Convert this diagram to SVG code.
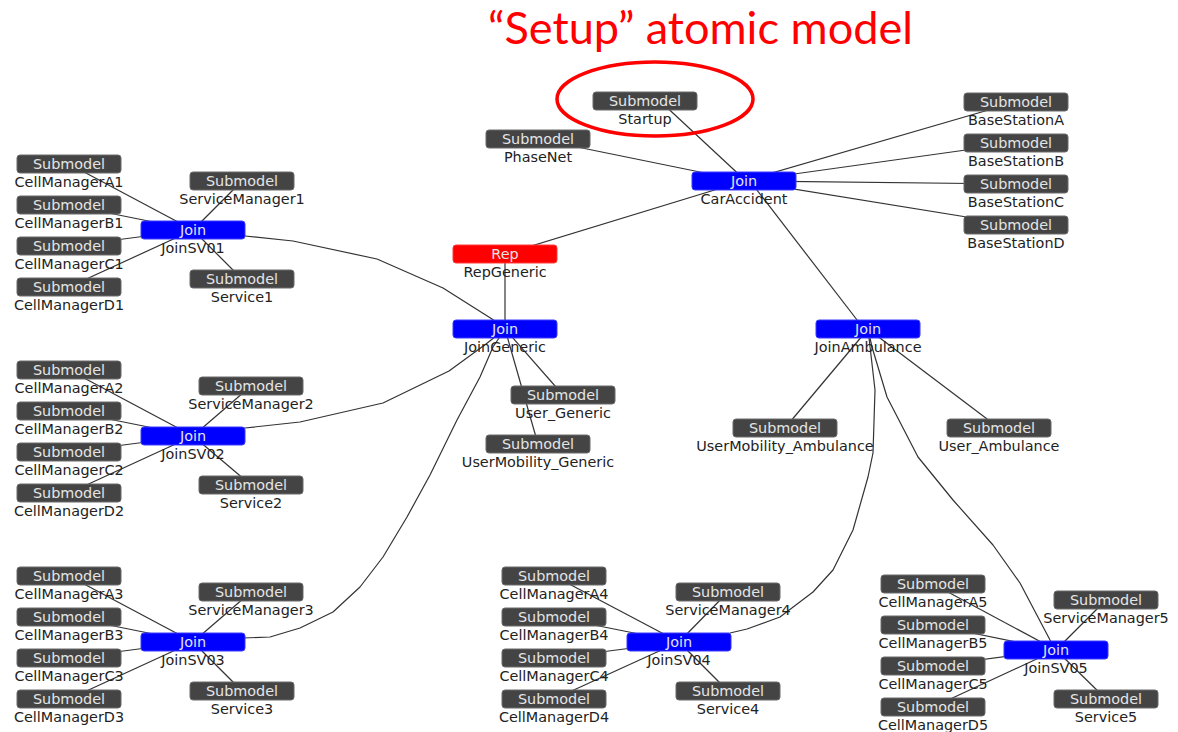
<svg xmlns="http://www.w3.org/2000/svg" width="1178" height="732" viewBox="0 0 1178 732">
  <style>
    .edge { fill: none; stroke: #333; stroke-width: 1.2; stroke-linejoin: round; }
    .sub { fill: #444; stroke: #6a6a6a; stroke-width: 1; }
    .join { fill: #0000ff; stroke: #3a3aff; stroke-width: 1; }
    .rep { fill: #ff0000; stroke: #ff3a3a; stroke-width: 1; }
    .kind { font-family: "DejaVu Sans", sans-serif; font-size: 14.4px; fill: #e4e4e4; text-anchor: middle; }
    .name { font-family: "DejaVu Sans", sans-serif; font-size: 14.4px; fill: #222; text-anchor: middle; }
    .title { font-family: Lato, "Open Sans", sans-serif; font-size: 44px; fill: #ff0000; }
  </style>
  <defs>
    <rect id="box" width="104" height="18" rx="3"/>
  </defs>
  <rect width="1178" height="732" fill="#fff"/>

  <!-- annotation -->
  <text class="title" x="488" y="44" textLength="425" lengthAdjust="spacingAndGlyphs">“Setup” atomic model</text>

  <!-- connectors -->
  <g id="edges">
    <!-- CarAccident hub -->
    <line class="edge" x1="746" y1="181" x2="660" y2="101"/>
    <line class="edge" x1="744" y1="181" x2="538" y2="139"/>
    <line class="edge" x1="744" y1="181" x2="1016" y2="102"/>
    <line class="edge" x1="744" y1="181" x2="1016" y2="143"/>
    <line class="edge" x1="744" y1="181" x2="1016" y2="184"/>
    <line class="edge" x1="744" y1="181" x2="1016" y2="225"/>
    <line class="edge" x1="744" y1="181" x2="505" y2="254"/>
    <line class="edge" x1="750" y1="181" x2="864" y2="329"/>
    <!-- RepGeneric / JoinGeneric -->
    <line class="edge" x1="505" y1="254" x2="505" y2="329"/>
    <line class="edge" x1="505" y1="329" x2="563" y2="395"/>
    <line class="edge" x1="505" y1="329" x2="538" y2="444"/>
    <path class="edge" d="M193,230 L245,236 L293,241 L377,259 L443,288 L492,319 L505,329"/>
    <path class="edge" d="M193,436 L245,428 L300,422 L383,403 L449,371 L486,344 L505,329"/>
    <path class="edge" d="M193,642 L243,638 L270,637 L300,628 L333,612 L360,587 L383,557 L407,517 L430,475 L457,420 L480,377 L493,347 L505,329"/>
    <!-- JoinAmbulance -->
    <line class="edge" x1="868" y1="329" x2="785" y2="428"/>
    <line class="edge" x1="868" y1="329" x2="999" y2="428"/>
    <path class="edge" d="M868,329 L875,390 L873,453 L868,477 L853,530 L833,570 L813,592 L780,617 L747,629 L730,633 L679,642"/>
    <path class="edge" d="M868,329 L872,347 L887,397 L918,457 L953,500 L993,545 L1020,583 L1050,640 L1056,650"/>
    <!-- JoinSV01 -->
    <line class="edge" x1="193" y1="230" x2="69" y2="164"/>
    <line class="edge" x1="193" y1="230" x2="69" y2="205"/>
    <line class="edge" x1="193" y1="230" x2="69" y2="246"/>
    <line class="edge" x1="193" y1="230" x2="69" y2="287"/>
    <line class="edge" x1="193" y1="230" x2="242" y2="181"/>
    <line class="edge" x1="193" y1="230" x2="242" y2="279"/>
    <!-- JoinSV02 -->
    <line class="edge" x1="193" y1="436" x2="69" y2="370"/>
    <line class="edge" x1="193" y1="436" x2="69" y2="411"/>
    <line class="edge" x1="193" y1="436" x2="69" y2="452"/>
    <line class="edge" x1="193" y1="436" x2="69" y2="493"/>
    <line class="edge" x1="193" y1="436" x2="251" y2="386"/>
    <line class="edge" x1="193" y1="436" x2="251" y2="485"/>
    <!-- JoinSV03 -->
    <line class="edge" x1="193" y1="642" x2="69" y2="576"/>
    <line class="edge" x1="193" y1="642" x2="69" y2="617"/>
    <line class="edge" x1="193" y1="642" x2="69" y2="658"/>
    <line class="edge" x1="193" y1="642" x2="69" y2="699"/>
    <line class="edge" x1="193" y1="642" x2="251" y2="592"/>
    <line class="edge" x1="193" y1="642" x2="242" y2="691"/>
    <!-- JoinSV04 -->
    <line class="edge" x1="679" y1="642" x2="554" y2="576"/>
    <line class="edge" x1="679" y1="642" x2="554" y2="617"/>
    <line class="edge" x1="679" y1="642" x2="554" y2="658"/>
    <line class="edge" x1="679" y1="642" x2="554" y2="699"/>
    <line class="edge" x1="679" y1="642" x2="728" y2="592"/>
    <line class="edge" x1="679" y1="642" x2="728" y2="691"/>
    <!-- JoinSV05 -->
    <line class="edge" x1="1056" y1="650" x2="933" y2="584"/>
    <line class="edge" x1="1056" y1="650" x2="933" y2="625"/>
    <line class="edge" x1="1056" y1="650" x2="933" y2="666"/>
    <line class="edge" x1="1056" y1="650" x2="933" y2="707"/>
    <line class="edge" x1="1056" y1="650" x2="1106" y2="600"/>
    <line class="edge" x1="1056" y1="650" x2="1106" y2="699"/>
  </g>

  <!-- nodes: box at (x,y), type text at y+14, name at y+32 -->
  <g id="Startup"><use href="#box" class="sub" x="593" y="92"/><text class="kind" x="645" y="106">Submodel</text><text class="name" x="645" y="124">Startup</text></g>
  <g id="PhaseNet"><use href="#box" class="sub" x="486" y="130"/><text class="kind" x="538" y="144">Submodel</text><text class="name" x="538" y="162">PhaseNet</text></g>
  <g id="CarAccident"><use href="#box" class="join" x="692" y="172"/><text class="kind" x="744" y="186">Join</text><text class="name" x="744" y="204">CarAccident</text></g>
  <g id="BaseStationA"><use href="#box" class="sub" x="964" y="93"/><text class="kind" x="1016" y="107">Submodel</text><text class="name" x="1016" y="125">BaseStationA</text></g>
  <g id="BaseStationB"><use href="#box" class="sub" x="964" y="134"/><text class="kind" x="1016" y="148">Submodel</text><text class="name" x="1016" y="166">BaseStationB</text></g>
  <g id="BaseStationC"><use href="#box" class="sub" x="964" y="175"/><text class="kind" x="1016" y="189">Submodel</text><text class="name" x="1016" y="207">BaseStationC</text></g>
  <g id="BaseStationD"><use href="#box" class="sub" x="964" y="216"/><text class="kind" x="1016" y="230">Submodel</text><text class="name" x="1016" y="248">BaseStationD</text></g>

  <g id="RepGeneric"><use href="#box" class="rep" x="453" y="245"/><text class="kind" x="505" y="259" fill="#fff">Rep</text><text class="name" x="505" y="277">RepGeneric</text></g>
  <g id="JoinGeneric"><use href="#box" class="join" x="453" y="320"/><text class="kind" x="505" y="334">Join</text><text class="name" x="505" y="352">JoinGeneric</text></g>
  <g id="User_Generic"><use href="#box" class="sub" x="511" y="386"/><text class="kind" x="563" y="400">Submodel</text><text class="name" x="563" y="418">User_Generic</text></g>
  <g id="UserMobility_Generic"><use href="#box" class="sub" x="486" y="435"/><text class="kind" x="538" y="449">Submodel</text><text class="name" x="538" y="467">UserMobility_Generic</text></g>

  <g id="JoinAmbulance"><use href="#box" class="join" x="816" y="320"/><text class="kind" x="868" y="334">Join</text><text class="name" x="868" y="352">JoinAmbulance</text></g>
  <g id="UserMobility_Ambulance"><use href="#box" class="sub" x="733" y="419"/><text class="kind" x="785" y="433">Submodel</text><text class="name" x="785" y="451">UserMobility_Ambulance</text></g>
  <g id="User_Ambulance"><use href="#box" class="sub" x="947" y="419"/><text class="kind" x="999" y="433">Submodel</text><text class="name" x="999" y="451">User_Ambulance</text></g>

  <!-- group 1 -->
  <g id="CellManagerA1"><use href="#box" class="sub" x="17" y="155"/><text class="kind" x="69" y="169">Submodel</text><text class="name" x="69" y="187">CellManagerA1</text></g>
  <g id="CellManagerB1"><use href="#box" class="sub" x="17" y="196"/><text class="kind" x="69" y="210">Submodel</text><text class="name" x="69" y="228">CellManagerB1</text></g>
  <g id="CellManagerC1"><use href="#box" class="sub" x="17" y="237"/><text class="kind" x="69" y="251">Submodel</text><text class="name" x="69" y="269">CellManagerC1</text></g>
  <g id="CellManagerD1"><use href="#box" class="sub" x="17" y="278"/><text class="kind" x="69" y="292">Submodel</text><text class="name" x="69" y="310">CellManagerD1</text></g>
  <g id="ServiceManager1"><use href="#box" class="sub" x="190" y="172"/><text class="kind" x="242" y="186">Submodel</text><text class="name" x="242" y="204">ServiceManager1</text></g>
  <g id="JoinSV01"><use href="#box" class="join" x="141" y="221"/><text class="kind" x="193" y="235">Join</text><text class="name" x="193" y="253">JoinSV01</text></g>
  <g id="Service1"><use href="#box" class="sub" x="190" y="270"/><text class="kind" x="242" y="284">Submodel</text><text class="name" x="242" y="302">Service1</text></g>

  <!-- group 2 -->
  <g id="CellManagerA2"><use href="#box" class="sub" x="17" y="361"/><text class="kind" x="69" y="375">Submodel</text><text class="name" x="69" y="393">CellManagerA2</text></g>
  <g id="CellManagerB2"><use href="#box" class="sub" x="17" y="402"/><text class="kind" x="69" y="416">Submodel</text><text class="name" x="69" y="434">CellManagerB2</text></g>
  <g id="CellManagerC2"><use href="#box" class="sub" x="17" y="443"/><text class="kind" x="69" y="457">Submodel</text><text class="name" x="69" y="475">CellManagerC2</text></g>
  <g id="CellManagerD2"><use href="#box" class="sub" x="17" y="484"/><text class="kind" x="69" y="498">Submodel</text><text class="name" x="69" y="516">CellManagerD2</text></g>
  <g id="ServiceManager2"><use href="#box" class="sub" x="199" y="377"/><text class="kind" x="251" y="391">Submodel</text><text class="name" x="251" y="409">ServiceManager2</text></g>
  <g id="JoinSV02"><use href="#box" class="join" x="141" y="427"/><text class="kind" x="193" y="441">Join</text><text class="name" x="193" y="459">JoinSV02</text></g>
  <g id="Service2"><use href="#box" class="sub" x="199" y="476"/><text class="kind" x="251" y="490">Submodel</text><text class="name" x="251" y="508">Service2</text></g>

  <!-- group 3 -->
  <g id="CellManagerA3"><use href="#box" class="sub" x="17" y="567"/><text class="kind" x="69" y="581">Submodel</text><text class="name" x="69" y="599">CellManagerA3</text></g>
  <g id="CellManagerB3"><use href="#box" class="sub" x="17" y="608"/><text class="kind" x="69" y="622">Submodel</text><text class="name" x="69" y="640">CellManagerB3</text></g>
  <g id="CellManagerC3"><use href="#box" class="sub" x="17" y="649"/><text class="kind" x="69" y="663">Submodel</text><text class="name" x="69" y="681">CellManagerC3</text></g>
  <g id="CellManagerD3"><use href="#box" class="sub" x="17" y="690"/><text class="kind" x="69" y="704">Submodel</text><text class="name" x="69" y="722">CellManagerD3</text></g>
  <g id="ServiceManager3"><use href="#box" class="sub" x="199" y="583"/><text class="kind" x="251" y="597">Submodel</text><text class="name" x="251" y="615">ServiceManager3</text></g>
  <g id="JoinSV03"><use href="#box" class="join" x="141" y="633"/><text class="kind" x="193" y="647">Join</text><text class="name" x="193" y="665">JoinSV03</text></g>
  <g id="Service3"><use href="#box" class="sub" x="190" y="682"/><text class="kind" x="242" y="696">Submodel</text><text class="name" x="242" y="714">Service3</text></g>

  <!-- group 4 -->
  <g id="CellManagerA4"><use href="#box" class="sub" x="502" y="567"/><text class="kind" x="554" y="581">Submodel</text><text class="name" x="554" y="599">CellManagerA4</text></g>
  <g id="CellManagerB4"><use href="#box" class="sub" x="502" y="608"/><text class="kind" x="554" y="622">Submodel</text><text class="name" x="554" y="640">CellManagerB4</text></g>
  <g id="CellManagerC4"><use href="#box" class="sub" x="502" y="649"/><text class="kind" x="554" y="663">Submodel</text><text class="name" x="554" y="681">CellManagerC4</text></g>
  <g id="CellManagerD4"><use href="#box" class="sub" x="502" y="690"/><text class="kind" x="554" y="704">Submodel</text><text class="name" x="554" y="722">CellManagerD4</text></g>
  <g id="ServiceManager4"><use href="#box" class="sub" x="676" y="583"/><text class="kind" x="728" y="597">Submodel</text><text class="name" x="728" y="615">ServiceManager4</text></g>
  <g id="JoinSV04"><use href="#box" class="join" x="627" y="633"/><text class="kind" x="679" y="647">Join</text><text class="name" x="679" y="665">JoinSV04</text></g>
  <g id="Service4"><use href="#box" class="sub" x="676" y="682"/><text class="kind" x="728" y="696">Submodel</text><text class="name" x="728" y="714">Service4</text></g>

  <!-- group 5 -->
  <g id="CellManagerA5"><use href="#box" class="sub" x="881" y="575"/><text class="kind" x="933" y="589">Submodel</text><text class="name" x="933" y="607">CellManagerA5</text></g>
  <g id="CellManagerB5"><use href="#box" class="sub" x="881" y="616"/><text class="kind" x="933" y="630">Submodel</text><text class="name" x="933" y="648">CellManagerB5</text></g>
  <g id="CellManagerC5"><use href="#box" class="sub" x="881" y="657"/><text class="kind" x="933" y="671">Submodel</text><text class="name" x="933" y="689">CellManagerC5</text></g>
  <g id="CellManagerD5"><use href="#box" class="sub" x="881" y="698"/><text class="kind" x="933" y="712">Submodel</text><text class="name" x="933" y="730">CellManagerD5</text></g>
  <g id="ServiceManager5"><use href="#box" class="sub" x="1054" y="591"/><text class="kind" x="1106" y="605">Submodel</text><text class="name" x="1106" y="623">ServiceManager5</text></g>
  <g id="JoinSV05"><use href="#box" class="join" x="1004" y="641"/><text class="kind" x="1056" y="655">Join</text><text class="name" x="1056" y="673">JoinSV05</text></g>
  <g id="Service5"><use href="#box" class="sub" x="1054" y="690"/><text class="kind" x="1106" y="704">Submodel</text><text class="name" x="1106" y="722">Service5</text></g>

  <!-- highlight ring around the start-up model -->
  <ellipse cx="655" cy="99" rx="98" ry="37" fill="none" stroke="#ff0000" stroke-width="3.5"/>
</svg>
